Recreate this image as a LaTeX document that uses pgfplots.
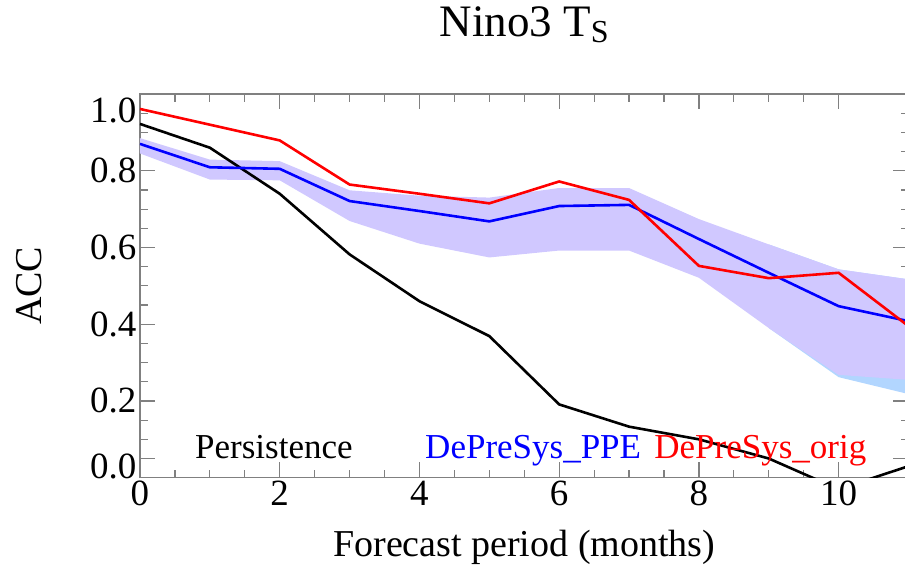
\documentclass[border=0pt]{standalone}
\usepackage{fontspec}
\setmainfont{Liberation Serif}
\usepackage{pgfplots}
\pgfplotsset{compat=1.18}
\definecolor{band}{RGB}{208,200,255}
\definecolor{bandblue}{RGB}{178,214,255}
\definecolor{axgray}{RGB}{128,128,128}
\begin{document}
\begin{tikzpicture}
\begin{axis}[
  at={(0,0)}, anchor=south west,
  scale only axis, width=768.5pt, height=383.7pt,
  xmin=0, xmax=11, ymin=0, ymax=1,
  xtick={0,2,4,6,8,10}, minor x tick num=3,
  ytick={0,0.2,0.4,0.6,0.8,1}, minor y tick num=3,
  yticklabels={\raisebox{11pt}[\height][\depth]{0.0},0.2,0.4,0.6,0.8,\raisebox{-16pt}[\height][\depth]{1.0}},
  extra y ticks={0.05}, extra y tick labels={},
  /pgf/number format/assume math mode=true,
  tick label style={font=\fontsize{37}{39}\selectfont},
  axis line style={axgray, line width=1.2pt},
  every tick/.style={axgray, line width=1.2pt},
  major tick length=15.5pt, minor tick length=8pt,
  xlabel={Forecast period (months)}, ylabel={ACC},
  label style={font=\fontsize{38}{40}\selectfont},
  xlabel style={at={(axis description cs:0.5,-0.1824)}, anchor=center},
  ylabel style={at={(axis description cs:-0.1438,0.5)}, anchor=center, rotate=0},
  title={Nino3 T\raisebox{-6pt}{\fontsize{32}{32}\selectfont S}},
  title style={font=\fontsize{45}{48}\selectfont, at={(axis description cs:0.5,1.1337)}, anchor=base},
]
% ensemble spread (light blue part)
\addplot[draw=none, fill=bandblue] coordinates {
 (9,0.608) (10,0.543) (11,0.517) (11,0.218) (10,0.262) (9,0.390)} -- cycle;
% ensemble spread
\addplot[draw=none, fill=band] coordinates {
 (0,0.885) (1,0.829) (2,0.825) (3,0.749) (4,0.735) (5,0.730) (6,0.755) (7,0.755) (8,0.674) (9,0.608) (10,0.543) (11,0.517)
 (11,0.255) (10,0.268) (9,0.390) (8,0.521) (7,0.592) (6,0.592) (5,0.574) (4,0.610) (3,0.669) (2,0.775) (1,0.777) (0,0.845)} -- cycle;
% Persistence
\addplot[black, line width=2.6pt] coordinates {
 (0,0.922) (1,0.860) (2,0.740) (3,0.582) (4,0.460) (5,0.369) (6,0.191) (7,0.133) (8,0.100) (9,0.050) (10,-0.030) (11,0.030)};
% DePreSys_PPE
\addplot[blue, line width=2.6pt] coordinates {
 (0,0.870) (1,0.809) (2,0.805) (3,0.721) (4,0.695) (5,0.668) (6,0.708) (7,0.711) (8,0.622) (9,0.534) (10,0.447) (11,0.408)};
% DePreSys_orig
\addplot[red, line width=2.6pt] coordinates {
 (0,0.961) (1,0.920) (2,0.879) (3,0.764) (4,0.740) (5,0.715) (6,0.772) (7,0.724) (8,0.552) (9,0.520) (10,0.534) (11,0.395)};
\node[anchor=base west, inner sep=0pt, font=\fontsize{35}{37}\selectfont, black] at (axis cs:0.787,0.0505) {Persistence};
\node[anchor=base west, inner sep=0pt, font=\fontsize{35}{37}\selectfont, blue] at (axis cs:4.08,0.0505) {DePreSys\_PPE};
\node[anchor=base west, inner sep=0pt, font=\fontsize{35}{37}\selectfont, red] at (axis cs:7.36,0.0505) {DePreSys\_orig};
\end{axis}
\pgfresetboundingbox
\path[use as bounding box] (-140pt,-91.3pt) rectangle (765pt,477.7pt);
\end{tikzpicture}
\end{document}
